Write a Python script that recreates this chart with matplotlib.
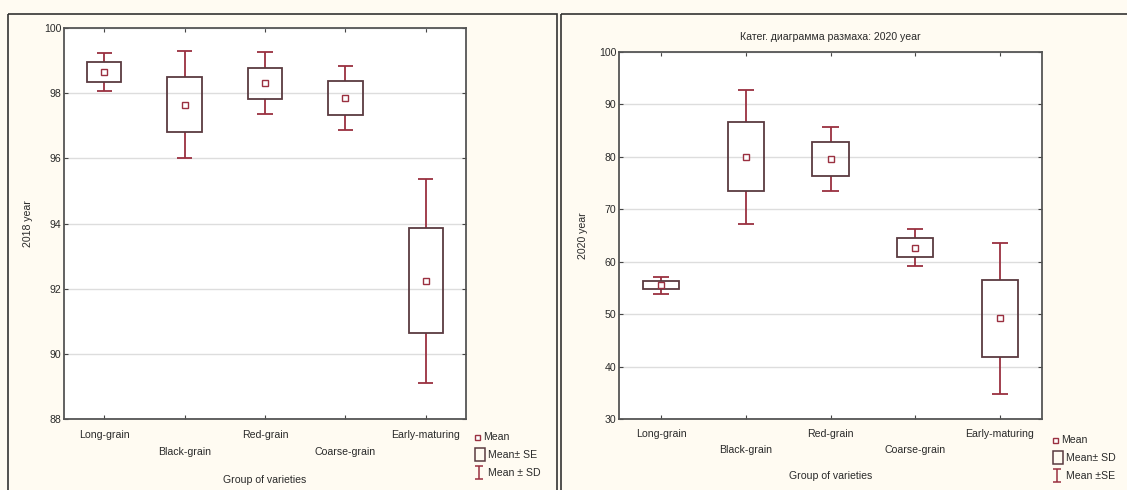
import matplotlib
matplotlib.use("Agg")
import matplotlib.pyplot as plt
from matplotlib.patches import Rectangle
import numpy as np

plt.rcParams['font.family'] = ['Liberation Sans', 'DejaVu Sans']

categories = ["Long-grain", "Black-grain", "Red-grain", "Coarse-grain", "Early-maturing"]

# 2018 panel: box = Mean ± SE, whisker = Mean ± SD
mean_2018 = [98.65, 97.65, 98.30, 97.85, 92.25]
box_2018 = [0.31, 0.85, 0.48, 0.51, 1.61]
whisk_2018 = [0.58, 1.65, 0.95, 0.99, 3.13]

# 2020 panel: box = Mean ± SD, whisker = Mean ± SE (as labelled in the original)
mean_2020 = [55.5, 80.0, 79.6, 62.7, 49.2]
box_2020 = [0.78, 6.6, 3.2, 1.75, 7.3]
whisk_2020 = [1.62, 12.8, 6.15, 3.5, 14.4]

yticks_2018 = [88, 90, 92, 94, 96, 98, 100]
yticks_2020 = [30, 40, 50, 60, 70, 80, 90, 100]

W, H = 1127, 490
BG = "#fffbf2"
BOX_C = "#5a3a40"
WH_C = "#9a3040"
FRAME_C = "#555555"
GRID_C = "#dddddd"
FS = 7.6
TXT_C = "#2a2a2a"

fig = plt.figure(figsize=(W / 100, H / 100), dpi=100)
fig.patch.set_facecolor(BG)


def px_axes(x0, y0, x1, y1):
    return fig.add_axes([x0 / W, 1 - y1 / H, (x1 - x0) / W, (y1 - y0) / H])


# overlay for panel borders, legends, labels
ov = fig.add_axes([0, 0, 1, 1], zorder=-1)
ov.set_xlim(0, W)
ov.set_ylim(H, 0)
ov.axis("off")
ov.patch.set_alpha(0)
ov.add_patch(Rectangle((8, 14), 549, 490, fill=False, ec="#333333", lw=1.2))
ov.add_patch(Rectangle((561, 14), 580, 490, fill=False, ec="#333333", lw=1.2))


def draw_panel(ax, means, box, whisk, yticks, ylim):
    x = np.arange(len(categories))
    bw, cw = 0.43, 0.19
    for i in x:
        m = means[i]
        ax.vlines(i, m - whisk[i], m - box[i], color=WH_C, lw=1.3, zorder=3)
        ax.vlines(i, m + box[i], m + whisk[i], color=WH_C, lw=1.3, zorder=3)
        ax.hlines([m - whisk[i], m + whisk[i]], i - cw / 2, i + cw / 2, color=WH_C, lw=1.3, zorder=3)
        ax.add_patch(Rectangle((i - bw / 2, m - box[i]), bw, 2 * box[i], fill=False,
                               ec=BOX_C, lw=1.3, zorder=4))
    ax.plot(x, means, ls="none", marker="s", ms=4, mfc="white", mec=WH_C, mew=1.0, zorder=5)
    ax.set_xlim(-0.5, len(categories) - 0.5)
    ax.set_ylim(*ylim)
    ax.set_yticks(yticks)
    ax.set_xticks(x)
    ax.set_xticklabels([])
    ax.yaxis.grid(True, color=GRID_C, lw=1)
    ax.set_axisbelow(True)
    ax.tick_params(direction="in", length=3, width=0.8, color="#444444",
                   top=True, right=True, labelsize=FS, pad=2, labelcolor=TXT_C)
    for s in ax.spines.values():
        s.set_color(FRAME_C)
        s.set_linewidth(1.3)
    ax.set_facecolor("white")


ax1 = px_axes(64, 28, 466, 419)
draw_panel(ax1, mean_2018, box_2018, whisk_2018, yticks_2018, (88, 100))
ax2 = px_axes(619, 52, 1042, 419)
draw_panel(ax2, mean_2020, box_2020, whisk_2020, yticks_2020, (30, 100))

for ax in (ax1, ax2):
    for i, c in enumerate(categories):
        ax.text(i, -0.04 if i % 2 == 0 else -0.085, c, transform=ax.get_xaxis_transform(),
                ha="center", va="center", fontsize=FS, color=TXT_C)
    ax.text(0.5, -0.155, "Group of varieties", transform=ax.transAxes,
            ha="center", va="center", fontsize=FS, color=TXT_C)

ax1.set_ylabel("2018 year", fontsize=FS, labelpad=8, color=TXT_C)
ax2.set_ylabel("2020 year", fontsize=FS, labelpad=8, color=TXT_C)
ax2.set_title("Катег. диаграмма размаха: 2020 year", fontsize=FS, pad=9, color=TXT_C)


def legend(x0, y0, labels):
    ov.plot([x0 + 3], [y0], marker="s", ms=3.6, mfc="white", mec=WH_C, mew=1.0)
    ov.text(x0 + 9, y0, labels[0], fontsize=FS, va="center", ha="left", color=TXT_C)
    ov.add_patch(Rectangle((x0 + 1, y0 + 11), 10, 13, fill=False, ec=BOX_C, lw=1.1))
    ov.text(x0 + 14, y0 + 18, labels[1], fontsize=FS, va="center", ha="left", color=TXT_C)
    ov.vlines(x0 + 5, y0 + 29, y0 + 42, color=WH_C, lw=1.1)
    ov.hlines([y0 + 29, y0 + 42], x0 + 1, x0 + 9, color=WH_C, lw=1.1)
    ov.text(x0 + 14, y0 + 36, labels[2], fontsize=FS, va="center", ha="left", color=TXT_C)


legend(474, 437, ["Mean", "Mean± SE", "Mean ± SD"])
legend(1052, 440, ["Mean", "Mean± SD", "Mean ±SE"])

fig.savefig("out.png", dpi=100, facecolor=BG)
